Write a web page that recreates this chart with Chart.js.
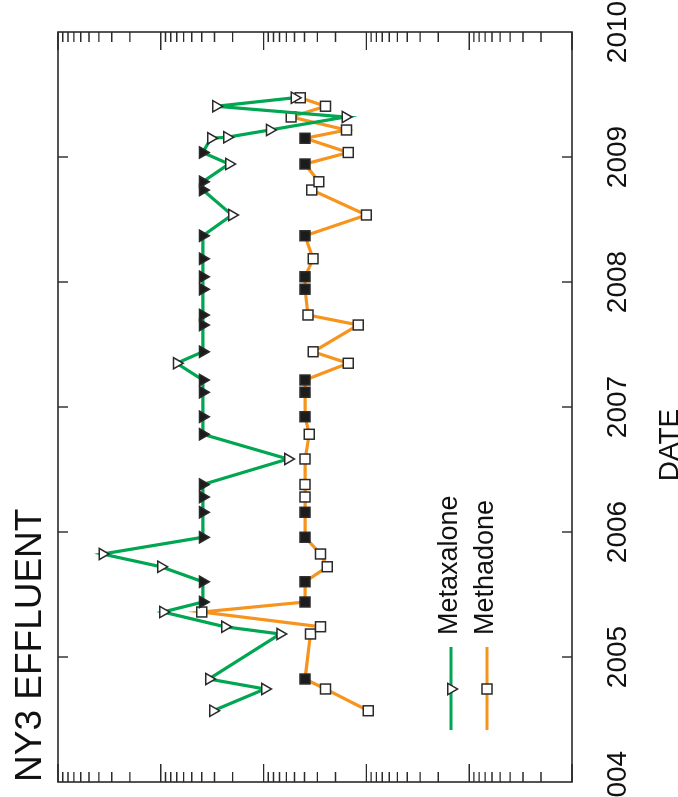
<!DOCTYPE html>
<html>
<head>
<meta charset="utf-8">
<script src="https://cdn.jsdelivr.net/npm/chart.js@4.4.1/dist/chart.umd.min.js"></script>
<style>
  html, body { margin: 0; padding: 0; background: #fff; overflow: hidden; }
  #wrap {
    position: absolute; left: 0; top: 0;
    width: 797px; height: 678px;
    transform-origin: 0 0;
    transform: translateY(797px) rotate(-90deg);
  }
</style>
</head>
<body>
<div id="wrap"><canvas id="chart" width="797" height="678"></canvas></div>
<script>
// sample dates (decimal years)
const dates = [2004.57, 2004.744, 2004.824, 2005.184, 2005.242, 2005.36, 2005.44, 2005.602,
  2005.722, 2005.824, 2005.958, 2006.158, 2006.28, 2006.38, 2006.584, 2006.782, 2006.922,
  2007.118, 2007.216, 2007.35, 2007.442, 2007.656, 2007.736, 2007.942, 2008.042, 2008.186,
  2008.37, 2008.536, 2008.736, 2008.802, 2008.944, 2009.036, 2009.15, 2009.158, 2009.216,
  2009.32, 2009.406, 2009.474];

const metaxalone = [310, 97, 340, 69, 238, 950, 390, 390, 995, 3700, 390, 390, 390, 390, 58,
  390, 390, 390, 390, 700, 390, 390, 390, 390, 390, 390, 390, 203, 390, 390, 217, 390, 325,
  227, 87, 16, 290, 50];
// 1 = not detected (filled marker)
const metaxaloneND = [0, 0, 0, 0, 0, 0, 1, 1, 0, 0, 1, 1, 1, 1, 0, 1, 1, 1, 1, 0, 1, 1, 1, 1,
  1, 1, 1, 0, 1, 1, 0, 1, 0, 0, 0, 0, 0, 0];

const methadone = [9.6, 25, 39.5, 35, 28, 400, 39.5, 39.5, 24, 28, 39.5, 39.5, 39.5, 39.5, 39.5,
  36, 39.5, 39.5, 39.5, 15, 33, 12, 37, 39.5, 39.5, 33, 39.5, 10, 34, 29, 39.5, 15, 39.5, null,
  15.6, 54, 25, 44];
const methadoneND = [0, 0, 1, 0, 0, 0, 1, 1, 0, 0, 1, 1, 0, 0, 0, 0, 1, 1, 1, 0, 0, 0, 0, 1, 1,
  0, 1, 0, 0, 0, 1, 0, 1, 0, 0, 0, 0, 0];

const years = [2004, 2005, 2006, 2007, 2008, 2009, 2010];

const GREEN = "#00a651";
const ORANGE = "#f7941d";
const EDGE = "#2a2a2a";
const FILL = "#1c1c1c";
const NARROW = "'Liberation Sans Narrow', 'Arial Narrow', 'Liberation Sans', sans-serif";
const SANS = "'Liberation Sans', Arial, sans-serif";

function toPoints(values, flags) {
  const pts = [];
  const fills = [];
  values.forEach((v, i) => {
    if (v === null) return;
    pts.push({ x: dates[i], y: v });
    fills.push(flags[i] ? FILL : "#ffffff");
  });
  return { pts, fills };
}

const mx = toPoints(metaxalone, metaxaloneND);
const md = toPoints(methadone, methadoneND);

function drawTri(ctx, x, y, r) {
  // points down on the unrotated canvas (right on the page)
  ctx.beginPath();
  ctx.moveTo(x, y + r);
  ctx.lineTo(x - r * 0.866, y - r * 0.5);
  ctx.lineTo(x + r * 0.866, y - r * 0.5);
  ctx.closePath();
  ctx.fillStyle = "#fff";
  ctx.fill();
  ctx.lineWidth = 1.5;
  ctx.strokeStyle = EDGE;
  ctx.stroke();
}

function drawSq(ctx, x, y, s) {
  ctx.fillStyle = "#fff";
  ctx.fillRect(x - s / 2, y - s / 2, s, s);
  ctx.lineWidth = 1.5;
  ctx.strokeStyle = EDGE;
  ctx.strokeRect(x - s / 2, y - s / 2, s, s);
}

const framePlugin = {
  id: "frame",
  afterDraw(chart) {
    const ctx = chart.ctx;
    const a = chart.chartArea;
    const xs = chart.scales.x;
    const ys = chart.scales.y;
    ctx.save();
    ctx.strokeStyle = EDGE;
    ctx.lineWidth = 1.6;
    ctx.strokeRect(a.left, a.top, a.right - a.left, a.bottom - a.top);

    // log ticks on both value edges
    ctx.lineWidth = 1.4;
    for (let k = -1; k <= 4; k++) {
      for (let m = 1; m <= 9; m++) {
        const val = m * Math.pow(10, k);
        if (val < ys.min || val > ys.max) continue;
        const py = ys.getPixelForValue(val);
        const len = m === 1 ? 18 : 10;
        ctx.beginPath();
        ctx.moveTo(a.left, py);
        ctx.lineTo(a.left + len, py);
        ctx.moveTo(a.right, py);
        ctx.lineTo(a.right - len, py);
        ctx.stroke();
      }
    }

    // year ticks and labels
    ctx.fillStyle = "#111";
    ctx.font = "28px " + NARROW;
    ctx.textAlign = "center";
    ctx.textBaseline = "alphabetic";
    years.forEach((yr) => {
      const px = xs.getPixelForValue(yr);
      if (yr > years[0] && yr < years[years.length - 1]) {
        ctx.beginPath();
        ctx.moveTo(px, a.top);
        ctx.lineTo(px, a.top + 10);
        ctx.moveTo(px, a.bottom);
        ctx.lineTo(px, a.bottom - 10);
        ctx.stroke();
      }
      ctx.fillText(String(yr), px, 626);
    });

    // axis title
    ctx.fillText("DATE", (a.left + a.right) / 2 - 38, 678);

    // chart title
    ctx.textAlign = "left";
    ctx.font = "37px " + NARROW;
    ctx.fillText("NY3 EFFLUENT", 15, 41);

    // legend
    const items = [
      { label: "Metaxalone", color: GREEN, v: 451, base: 457, tri: true },
      { label: "Methadone", color: ORANGE, v: 487, base: 493, tri: false },
    ];
    ctx.font = "27px " + SANS;
    items.forEach((it) => {
      ctx.strokeStyle = it.color;
      ctx.lineWidth = 3.2;
      ctx.beginPath();
      ctx.moveTo(67, it.v);
      ctx.lineTo(150, it.v);
      ctx.stroke();
      if (it.tri) drawTri(ctx, 108, it.v, 6.5);
      else drawSq(ctx, 108, it.v, 10);
      ctx.fillStyle = "#111";
      ctx.fillText(it.label, 162, it.base);
    });
    ctx.restore();
  },
};

new Chart(document.getElementById("chart"), {
  type: "line",
  data: {
    datasets: [
      {
        label: "Metaxalone",
        data: mx.pts,
        borderColor: GREEN,
        borderWidth: 3.2,
        pointStyle: "triangle",
        pointRotation: 180,
        pointRadius: 6.5,
        pointBorderWidth: 1.5,
        pointBorderColor: EDGE,
        pointBackgroundColor: mx.fills,
      },
      {
        label: "Methadone",
        data: md.pts,
        borderColor: ORANGE,
        borderWidth: 3.2,
        pointStyle: "rect",
        pointRadius: 7,
        pointBorderWidth: 1.5,
        pointBorderColor: EDGE,
        pointBackgroundColor: md.fills,
      },
    ],
  },
  options: {
    responsive: false,
    animation: false,
    layout: { padding: { left: 15, right: 32, top: 58, bottom: 106 } },
    scales: {
      x: { type: "linear", min: 2004, max: 2010, display: false },
      y: { type: "logarithmic", min: 0.1, max: 10000, display: false },
    },
    plugins: {
      legend: { display: false },
      title: { display: false },
      tooltip: { enabled: false },
    },
  },
  plugins: [framePlugin],
});
</script>
</body>
</html>
